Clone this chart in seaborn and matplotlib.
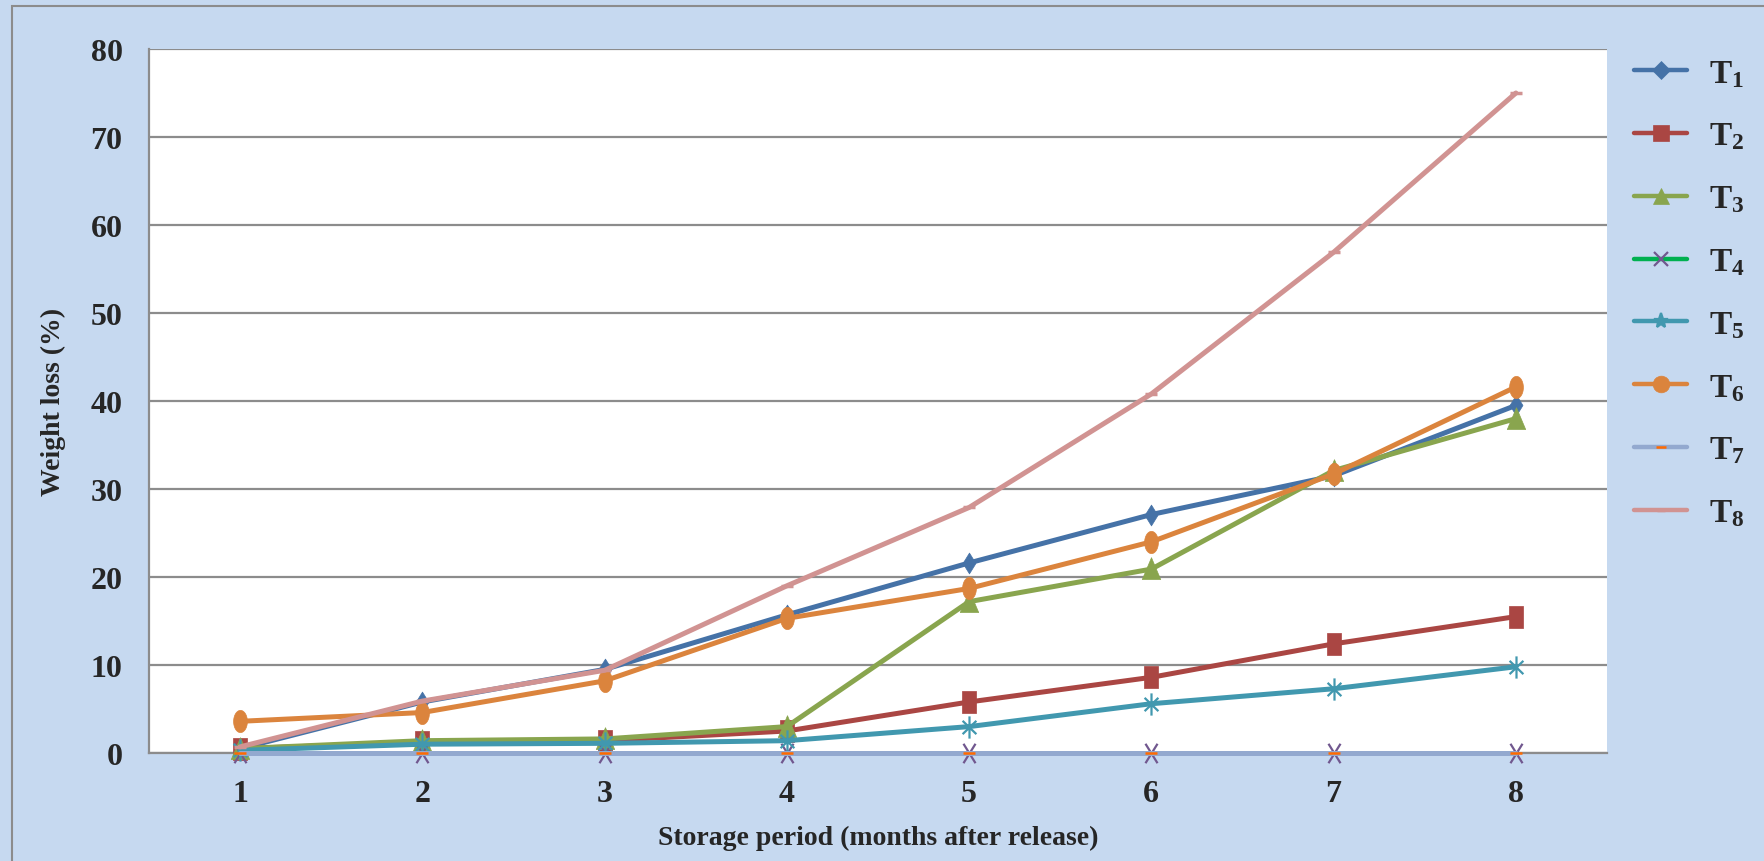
import matplotlib
matplotlib.use("Agg")
import matplotlib.pyplot as plt
import seaborn as sns
import pandas as pd
import numpy as np
from matplotlib.patches import Rectangle
from matplotlib.path import Path
from matplotlib.lines import Line2D

months = [1, 2, 3, 4, 5, 6, 7, 8]
series_names = ["T1", "T2", "T3", "T4", "T5", "T6", "T7", "T8"]
legend_labels = [r"$\mathbf{T_1}$", r"$\mathbf{T_2}$", r"$\mathbf{T_3}$", r"$\mathbf{T_4}$",
                 r"$\mathbf{T_5}$", r"$\mathbf{T_6}$", r"$\mathbf{T_7}$", r"$\mathbf{T_8}$"]

T1 = [0.5, 5.8, 9.5, 15.7, 21.6, 27.1, 31.5, 39.5]
T2 = [0.5, 1.2, 1.4, 2.5, 5.8, 8.6, 12.4, 15.5]
T3 = [0.5, 1.4, 1.6, 3.0, 17.2, 20.9, 32.1, 38.0]
T4 = [0.0, 0.0, 0.0, 0.0, 0.0, 0.0, 0.0, 0.0]
T5 = [0.3, 1.0, 1.1, 1.4, 3.0, 5.6, 7.3, 9.8]
T6 = [3.6, 4.6, 8.2, 15.3, 18.7, 24.0, 31.7, 41.6]
T7 = [0.0, 0.0, 0.0, 0.0, 0.0, 0.0, 0.0, 0.0]
T8 = [0.7, 5.9, 9.4, 19.0, 27.9, 40.8, 56.9, 75.0]

values = [T1, T2, T3, T4, T5, T6, T7, T8]

line_colors = ["#4572A7", "#AA4643", "#89A54E", "#00B050", "#4198AF", "#DB843D", "#93A9CF", "#D19392"]
marker_colors = ["#4572A7", "#AA4643", "#89A54E", "#71588F", "#4198AF", "#DB843D", "#FF6A00", "#D19392"]

# vertically elongated marker shapes (the reference is horizontally squeezed)
sx = 0.62
diamond = Path([(0, -1), (sx, 0), (0, 1), (-sx, 0), (0, -1)], closed=True)
square = Path([(-sx, -1), (sx, -1), (sx, 1), (-sx, 1), (-sx, -1)], closed=True)
triangle = Path([(-0.78, -0.85), (0.78, -0.85), (0, 1), (-0.78, -0.85)], closed=True)
xmark = Path([(-sx, -1), (sx, 1), (-sx, 1), (sx, -1)],
             [Path.MOVETO, Path.LINETO, Path.MOVETO, Path.LINETO])
star = Path([(0, -1), (0, 1), (-sx, -0.6), (sx, 0.6), (-sx, 0.6), (sx, -0.6)],
            [Path.MOVETO, Path.LINETO, Path.MOVETO, Path.LINETO, Path.MOVETO, Path.LINETO])
t = np.linspace(0, 2 * np.pi, 60)
ellipse = Path(np.column_stack([0.62 * np.cos(t), np.sin(t)]), closed=True)

markers = [diamond, square, triangle, xmark, star, ellipse, "_", "_"]
marker_sizes = [15, 16, 17, 14, 16, 16, 9, 8]
edge_widths = [0.5, 0.5, 0.5, 1.6, 1.6, 0.5, 1.8, 2.5]

legend_markers = ["D", "s", "^", "x", "*", "o", "_", "_"]
legend_msizes = [9, 11, 12, 10, 11, 12, 7, 6]

sns.set_theme(style="white")
plt.rcParams["font.family"] = ["Liberation Serif", "DejaVu Serif"]
plt.rcParams["mathtext.fontset"] = "custom"
plt.rcParams["mathtext.bf"] = "Liberation Serif:bold"
plt.rcParams["mathtext.rm"] = "Liberation Serif:bold"

bg = "#C6D9F0"
fig = plt.figure(figsize=(17.65, 8.62), dpi=100, facecolor=bg)
ax = fig.add_axes([149 / 1765, 1 - 754 / 862, (1607 - 149) / 1765, (754 - 50) / 862])
ax.set_facecolor("white")

fig.patches.append(Rectangle((12 / 1765, -0.01), 1.1, 1 - 7 / 862 + 0.01, transform=fig.transFigure,
                             fill=False, edgecolor="#8C8C8C", linewidth=1.5, zorder=0))

for i, name in enumerate(series_names):
    df = pd.DataFrame({"month": months, "loss": values[i]})
    sns.lineplot(data=df, x="month", y="loss", ax=ax, color=line_colors[i], linewidth=3.6,
                 marker="o", zorder=3 + i)
    ln = ax.lines[-1]
    ln.set_marker(markers[i])
    ln.set_markersize(marker_sizes[i])
    ln.set_markerfacecolor(marker_colors[i])
    ln.set_markeredgecolor(marker_colors[i])
    ln.set_markeredgewidth(edge_widths[i])
    ln.set_clip_on(False)

ax.set_xlim(0.5, 8.5)
ax.set_ylim(0, 80)
ax.set_yticks(range(0, 81, 10))
ax.set_xticks(months)
ax.set_xticklabels([str(m) for m in months])
ax.yaxis.grid(True, color="#8C8C8C", linewidth=1.6, zorder=1)
ax.set_axisbelow(True)
for s in ["top", "right"]:
    ax.spines[s].set_visible(False)
for s in ["left", "bottom"]:
    ax.spines[s].set_color("#8C8C8C")
    ax.spines[s].set_linewidth(1.6)

ax.tick_params(axis="y", direction="out", length=7, width=1.6, color="#8C8C8C", pad=12,
               labelsize=23)
ax.tick_params(axis="x", length=0, pad=19, labelsize=23)
for lbl in ax.get_xticklabels() + ax.get_yticklabels():
    lbl.set_fontweight("bold")

ax.set_xlabel("Storage period (months after release)", fontsize=20, fontweight="bold", labelpad=12)
ax.set_ylabel("Weight loss (%)", fontsize=20, fontweight="bold", labelpad=18)

handles = [Line2D([0], [0], color=line_colors[i], linewidth=3.2, marker=legend_markers[i],
                  markersize=legend_msizes[i], markerfacecolor=marker_colors[i],
                  markeredgecolor=marker_colors[i], markeredgewidth=edge_widths[i])
           for i in range(len(series_names))]
if ax.legend_:
    ax.legend_.remove()
leg = fig.legend(handles, legend_labels, loc="upper left", bbox_to_anchor=(1634 / 1765, 1 - 59 / 862),
                 frameon=False, fontsize=24, labelspacing=0.96, handlelength=1.6,
                 handletextpad=0.65, borderaxespad=0, borderpad=0)

fig.savefig("out.png", dpi=100, facecolor=bg)
